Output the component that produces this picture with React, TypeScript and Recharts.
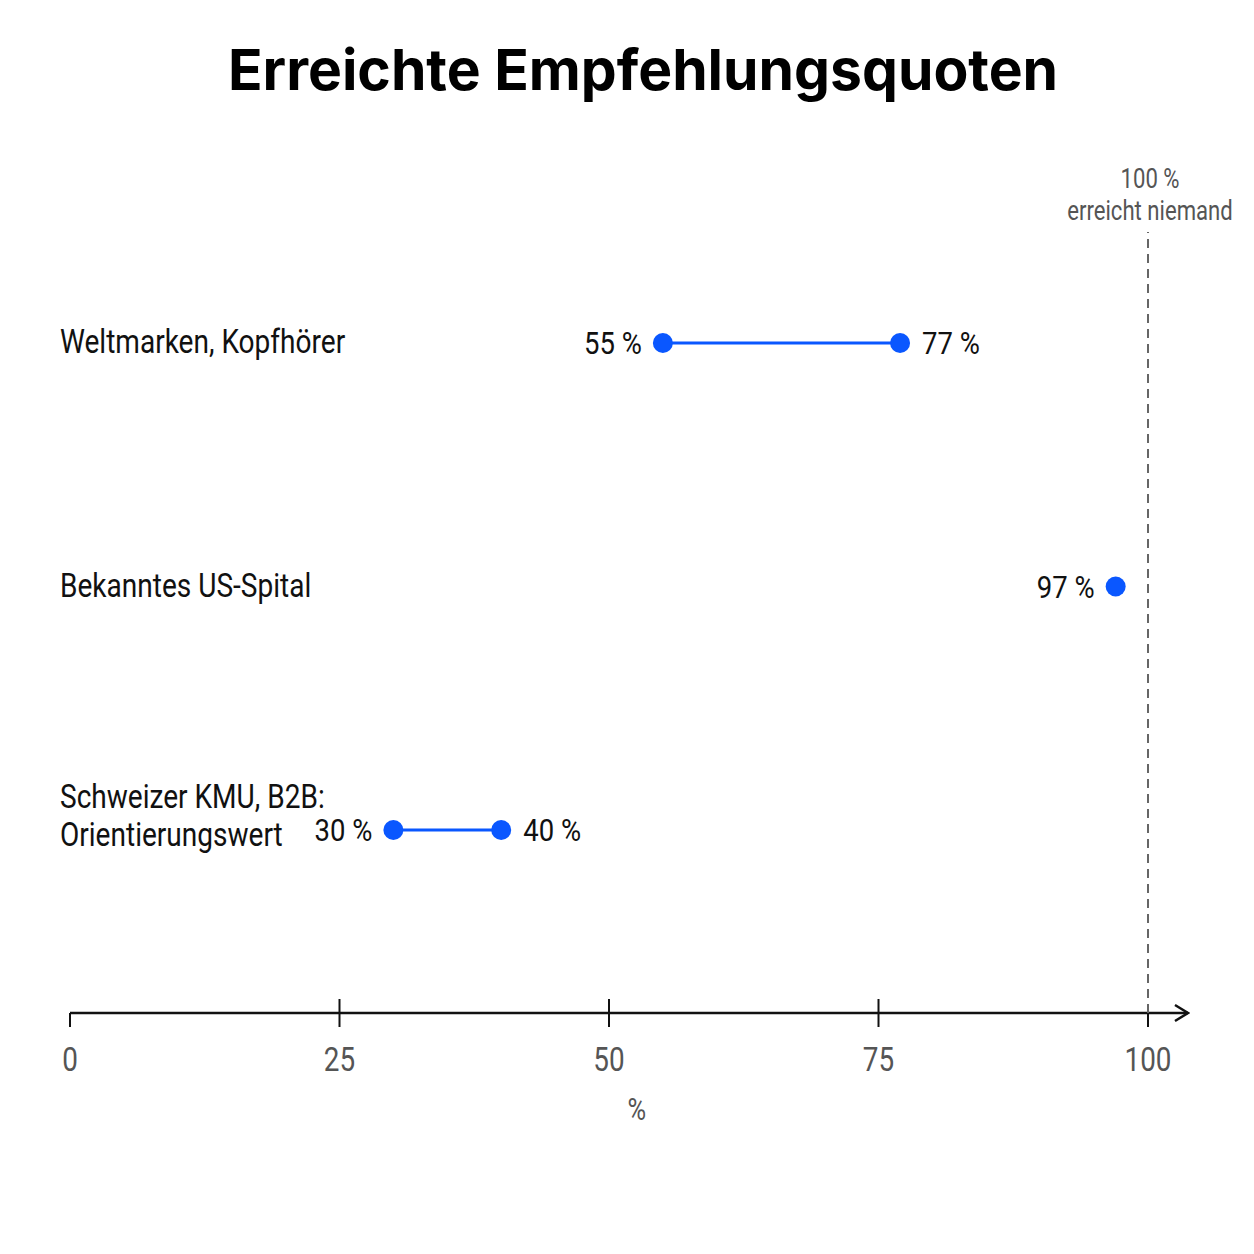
import React from 'react';
import { ScatterChart, Scatter, XAxis, YAxis, ReferenceLine } from 'recharts';

// ---- data ----
const categories = ['Weltmarken, Kopfhörer', 'Bekanntes US-Spital', 'Schweizer KMU, B2B:|Orientierungswert'];
const lowValues: number[] = [55, 97, 30];
const highValues: (number | null)[] = [77, null, 40];
const rowPositions: number[] = [3, 2, 1];
const xTicks: number[] = [0, 25, 50, 75, 100];
const limitValue = 100;
const titleText = 'Erreichte Empfehlungsquoten';
const noteLines = ['100 %', 'erreicht niemand'];
const xAxisLabel = '%';

// ---- styles ----
const BLUE = '#0a57ff';
const INK = '#111111';
const GREY = '#555555';
const NARROW = "Roboto, 'Noto Sans', sans-serif";
const SX = 0.82; // horizontal condensing of label text
const TITLE_FONT = "Inter, 'Noto Sans', 'DejaVu Sans', sans-serif";

const W = 1238;
const H = 1238;
const X_MAX = 103.71;
const Y_DOMAIN: [number, number] = [0.2485, 3.4559];

const rows = categories.map((name, i) => {
  const pts: { x: number; y: number; v: number; side: 'left' | 'right' }[] = [];
  const hi = highValues[i];
  // a single value close to the 100 % line gets its label on the left to stay clear of the line
  pts.push({ x: lowValues[i], y: rowPositions[i], v: lowValues[i], side: 'left' });
  if (hi != null) pts.push({ x: hi, y: rowPositions[i], v: hi, side: 'right' });
  return { name, pts };
});

// vertical limit line drawn as a series
const limitLine = [
  { x: limitValue, y: Y_DOMAIN[0] },
  { x: limitValue, y: Y_DOMAIN[1] },
];

const NText = ({ x, y, anchor = 'start', size, fill, sx = SX, children }: any) => (
  <text
    transform={`translate(${x},${y}) scale(${sx},1)`}
    x={0}
    y={0}
    textAnchor={anchor}
    fontFamily={NARROW}
    fontSize={size}
    fill={fill}
  >
    {children}
  </text>
);

const VAL_SIZE = 32;
const VAL_SX = 0.86;

const DotShape = (props: any) => {
  const { cx, cy, payload } = props;
  if (cx == null || cy == null) return null;
  const left = payload.side === 'left';
  const txt = `${payload.v} %`;
  const tx = left ? cx - 21 : cx + 22;
  return (
    <g>
      <circle cx={cx} cy={cy} r={10} fill={BLUE} />
      <NText x={tx} y={cy + 11} anchor={left ? 'end' : 'start'} size={VAL_SIZE} sx={VAL_SX} fill={INK}>
        {txt}
      </NText>
    </g>
  );
};

const NoShape = () => <g />;

const XTick = (props: any) => {
  const { x, y, payload } = props;
  const v = payload.value;
  const inner = v > xTicks[0] && v < xTicks[xTicks.length - 1];
  return (
    <g>
      <line x1={x} x2={x} y1={inner ? y - 14 : y} y2={y + 14} stroke={INK} strokeWidth={2} />
      <NText x={x} y={y + 58} anchor="middle" size={34} fill={GREY}>
        {v}
      </NText>
    </g>
  );
};

const YTick = (props: any) => {
  const { y, payload } = props;
  const idx = rowPositions.indexOf(Number(payload.value));
  if (idx < 0) return null;
  const lines = categories[idx].split('|');
  const offsets = lines.length === 1 ? [10] : [-22, 16];
  return (
    <g>
      {lines.map((ln, k) => (
        <NText key={k} x={52} y={y + offsets[k]} size={33} sx={0.85} fill={INK}>
          {ln}
        </NText>
      ))}
    </g>
  );
};

const NoteLabel = (props: any) => {
  const vb = props.viewBox || {};
  const x = (vb.x ?? 0) + 2;
  const y = vb.y ?? 0;
  return (
    <g>
      <NText x={x} y={y - 44} anchor="middle" size={27} fill={GREY}>
        {noteLines[0]}
      </NText>
      <NText x={x} y={y - 12} anchor="middle" size={27} fill={GREY}>
        {noteLines[1]}
      </NText>
    </g>
  );
};

const AxisTitle = (props: any) => {
  const vb = props.viewBox || {};
  return (
    <NText x={(vb.x ?? 0) + (vb.width ?? 0) * 0.507} y={(vb.y ?? 0) + 107} anchor="middle" size={31} fill={GREY}>
      {xAxisLabel}
    </NText>
  );
};

export default function App() {
  return (
    <div style={{ width: W, height: H, background: '#fff' }}>
      <ScatterChart width={W} height={H} margin={{ top: 224, right: 58, left: 0, bottom: 113 }}>
        <defs>
          <marker id="arrowHead" markerUnits="userSpaceOnUse" markerWidth={18} markerHeight={20} viewBox="0 0 18 20" refX={16} refY={10} orient="auto">
            <path d="M3,2 L16,10 L3,18" fill="none" stroke={INK} strokeWidth={2.5} />
          </marker>
        </defs>
        <text x={635} y={82} textAnchor="middle" fontFamily={TITLE_FONT} fontWeight={700} fontSize={57} fill="#000">
          {titleText}
        </text>
        <XAxis
          type="number"
          dataKey="x"
          domain={[0, X_MAX]}
          ticks={xTicks}
          interval={0}
          tickSize={0}
          tickMargin={0}
          tickLine={false}
          axisLine={{ stroke: INK, strokeWidth: 2.5, markerEnd: 'url(#arrowHead)' }}
          tick={<XTick />}
          height={120}
          label={<AxisTitle />}
        />
        <YAxis
          type="number"
          dataKey="y"
          domain={Y_DOMAIN}
          ticks={rowPositions}
          interval={0}
          width={62}
          axisLine={false}
          tickLine={false}
          tick={<YTick />}
        />
        <ReferenceLine x={limitValue} stroke="#666" strokeOpacity={0} strokeWidth={2} label={<NoteLabel />} />
        <Scatter
          name="limit"
          data={limitLine}
          line={{ stroke: '#666', strokeWidth: 2, strokeDasharray: '9 6' }}
          shape={<NoShape />}
          isAnimationActive={false}
        />
        {rows.map((r, i) => (
          <Scatter
            key={i}
            name={r.name}
            data={r.pts}
            fill={BLUE}
            line={{ stroke: BLUE, strokeWidth: 3 }}
            shape={<DotShape />}
            isAnimationActive={false}
          />
        ))}
      </ScatterChart>
    </div>
  );
}
